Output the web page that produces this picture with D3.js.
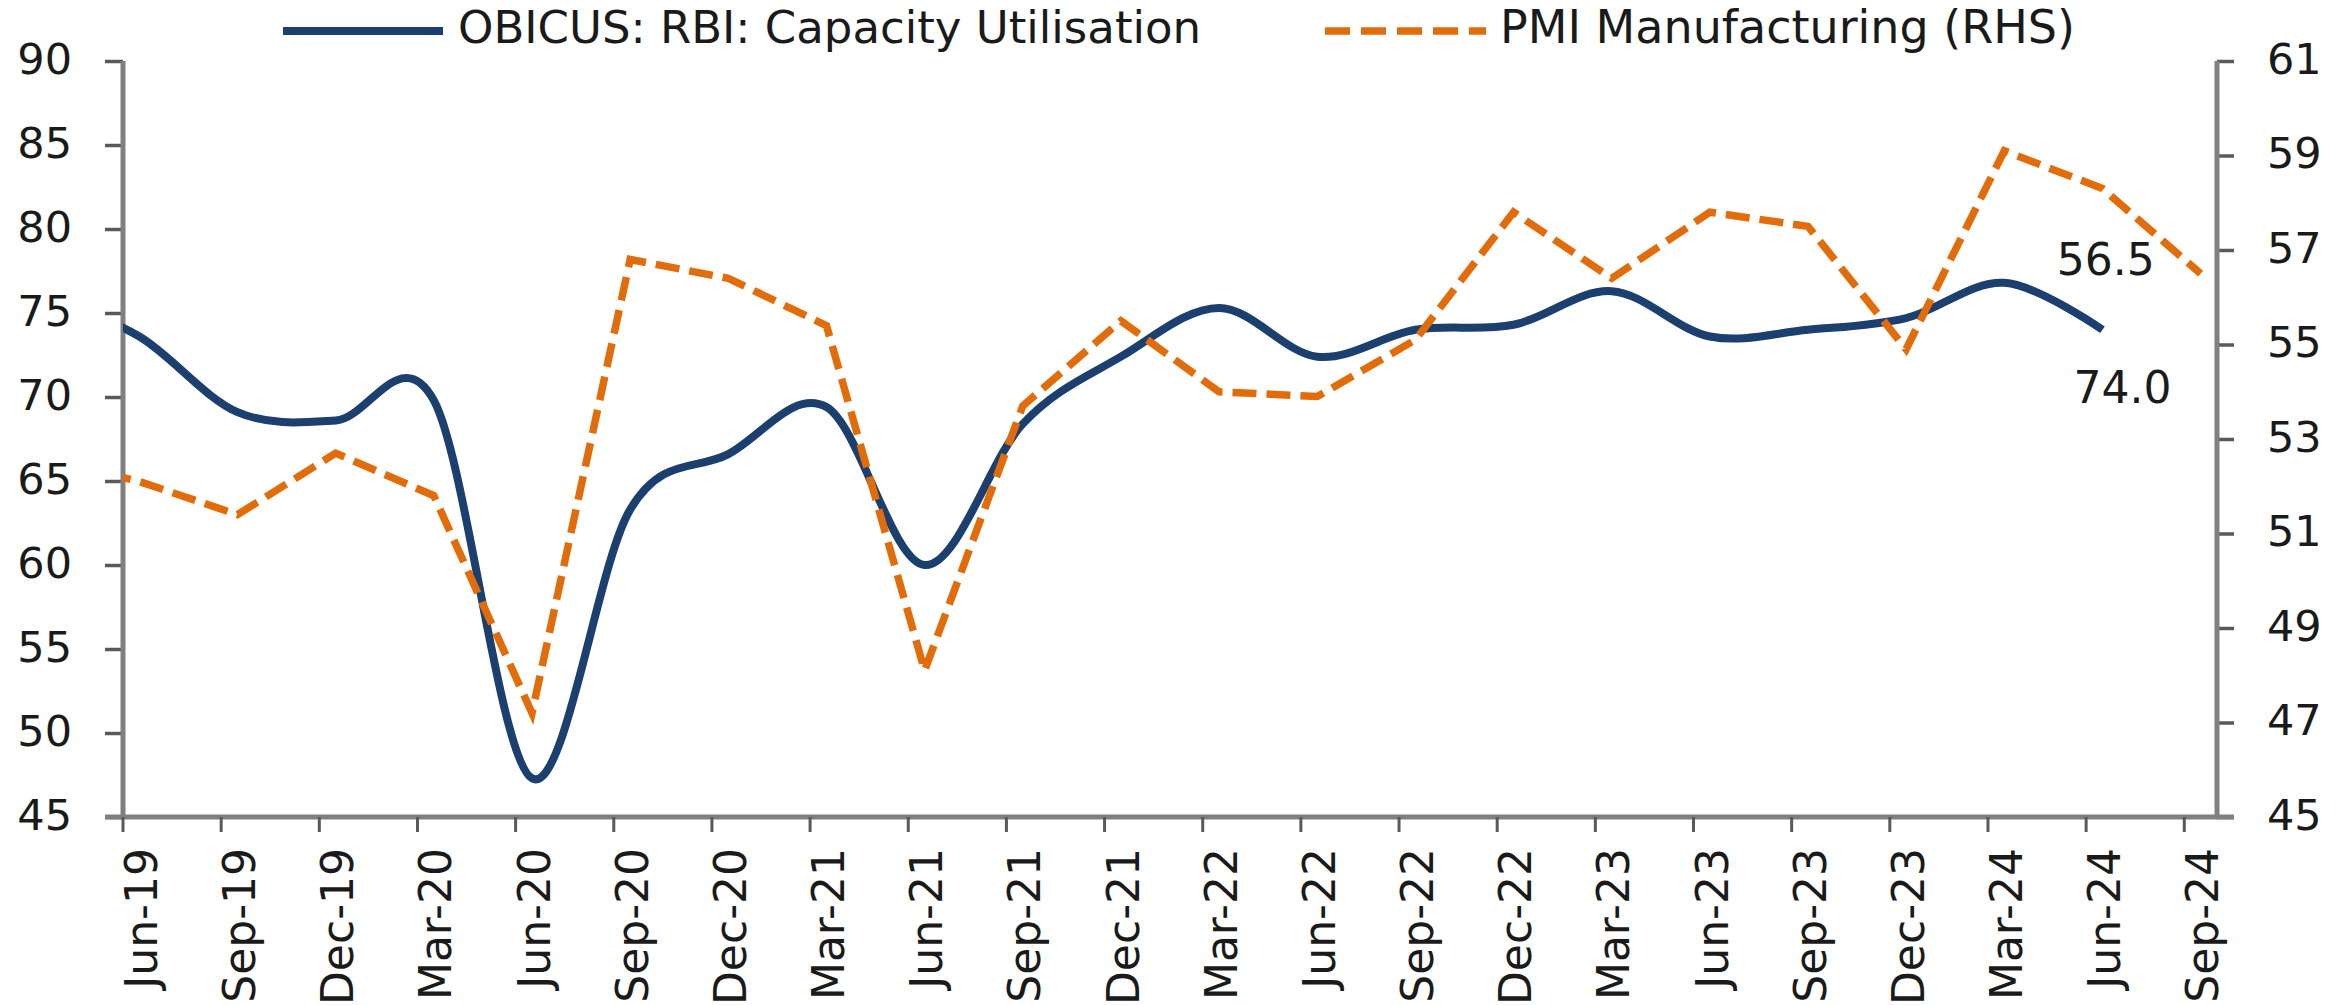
<!DOCTYPE html>
<html>
<head>
<meta charset="utf-8">
<script src="https://cdn.jsdelivr.net/npm/d3@7"></script>
<style>
  html, body { margin: 0; padding: 0; background: #fff; }
  #chart { width: 2351px; height: 1005px; }
</style>
</head>
<body>
<div id="chart"></div>
<script>
//Colores fijos
const COLOR_BLUE = '#1B3F6E',
COLOR_ORANGE = '#E36C0A',
COLOR_AXIS = '#808080',
COLOR_TICK = '#595959',
COLOR_TEXT = '#1a1a1a';

//Datos
const quarters = ['Jun-19','Sep-19','Dec-19','Mar-20','Jun-20','Sep-20','Dec-20','Mar-21','Jun-21','Sep-21','Dec-21',
    'Mar-22','Jun-22','Sep-22','Dec-22','Mar-23','Jun-23','Sep-23','Dec-23','Mar-24','Jun-24','Sep-24'];
//El primer valor (Mar-19) queda fuera del eje y solo se ve el tramo recortado
const obicus = [76.1, 73.6, 69.1, 68.6, 69.8, 47.3, 63.3, 66.6, 69.4, 60.0, 68.4, 72.4,
    75.3, 72.4, 74.0, 74.3, 76.3, 73.6, 74.0, 74.7, 76.8, 74.0];
const pmi = [52.6, 52.1, 51.4, 52.7, 51.8, 47.2, 56.8, 56.4, 55.4, 48.1, 53.7, 55.5,
    54.0, 53.9, 55.1, 57.8, 56.4, 57.8, 57.5, 54.9, 59.1, 58.3, 56.5];
const leftTicks = [45, 50, 55, 60, 65, 70, 75, 80, 85, 90];
const rightTicks = [45, 47, 49, 51, 53, 55, 57, 59, 61];
const seriesNames = ['OBICUS: RBI: Capacity Utilisation', 'PMI Manufacturing (RHS)'];
const lastLabels = ['74.0', '56.5'];

let margin = {top: 61, right: 134, bottom: 188, left: 123},
    width = 2351 - margin.left - margin.right,
    height = 1005 - margin.top - margin.bottom;

let svg = d3.select('#chart')
    .append('svg')
        .attr('width', 2351)
        .attr('height', 1005)
    .append('g')
        .attr('transform', 'translate(' + margin.left + ',' + margin.top + ')');

svg.append('clipPath')
    .attr('id', 'plot-clip')
    .append('rect')
    .attr('x', 0).attr('y', -10)
    .attr('width', 2351).attr('height', height + 20);

//Eje X mensual: cada trimestre son 3 meses, los puntos en el centro del mes
let nMonths = quarters.length * 3 - 2;
let x = d3.scaleLinear()
    .domain([0, nMonths])
    .range([0, width]);

let yLeft = d3.scaleLinear()
    .domain([45, 90])
    .range([height, 0]);

let yRight = d3.scaleLinear()
    .domain([45, 61])
    .range([height, 0]);

//i = 0 es Mar-19
function px(i) { return x((i - 1) * 3 + 0.5); }

//Ejes
let axisLeft = svg.append('g')
    .call(d3.axisLeft(yLeft).tickValues(leftTicks).tickSize(18).tickPadding(33));
let axisRight = svg.append('g')
    .attr('transform', 'translate(' + width + ',0)')
    .call(d3.axisRight(yRight).tickValues(rightTicks).tickSize(17).tickPadding(33));

[axisLeft, axisRight].forEach(function(g) {
    g.select('.domain').remove();
    g.selectAll('.tick line').attr('stroke', COLOR_TICK).attr('stroke-width', 3.5);
    g.selectAll('.tick text')
        .attr('font-family', 'DejaVu Sans')
        .attr('font-size', 43)
        .attr('fill', COLOR_TEXT)
        .attr('dy', '0.28em');
});

svg.append('line')
    .attr('x1', 0).attr('x2', 0)
    .attr('y1', 0).attr('y2', height)
    .attr('stroke', COLOR_AXIS).attr('stroke-width', 5);
svg.append('line')
    .attr('x1', width).attr('x2', width)
    .attr('y1', 0).attr('y2', height)
    .attr('stroke', COLOR_AXIS).attr('stroke-width', 5);

let xAxis = svg.append('g')
    .attr('transform', 'translate(0,' + height + ')');

xAxis.append('line')
    .attr('x1', -18).attr('x2', width + 17)
    .attr('stroke', COLOR_AXIS).attr('stroke-width', 5);

xAxis.selectAll('.xtick')
    .data(quarters)
    .enter()
    .append('line')
    .attr('class', 'xtick')
    .attr('x1', function(d, i) { return x(i * 3); })
    .attr('x2', function(d, i) { return x(i * 3); })
    .attr('y1', 0).attr('y2', 15)
    .attr('stroke', COLOR_TICK).attr('stroke-width', 3);

xAxis.selectAll('.xlabel')
    .data(quarters)
    .enter()
    .append('text')
    .attr('class', 'xlabel')
    .attr('transform', function(d, i) { return 'translate(' + (x(i * 3) + 34) + ',31) rotate(-90)'; })
    .attr('text-anchor', 'end')
    .attr('font-family', 'DejaVu Sans')
    .attr('font-size', 44)
    .attr('fill', COLOR_TEXT)
    .text(function(d) { return d; });

//Líneas
let lineObicus = d3.line()
    .x(function(d, i) { return px(i); })
    .y(function(d) { return yLeft(d); })
    .curve(d3.curveCatmullRom.alpha(0));

let linePmi = d3.line()
    .x(function(d, i) { return px(i); })
    .y(function(d) { return yRight(d); });

let plot = svg.append('g')
    .attr('clip-path', 'url(#plot-clip)');

plot.append('path')
    .datum(obicus)
    .attr('d', lineObicus)
    .attr('fill', 'none')
    .attr('stroke', COLOR_BLUE)
    .attr('stroke-width', 8)
    .attr('stroke-linejoin', 'round');

plot.append('path')
    .datum(pmi)
    .attr('d', linePmi)
    .attr('fill', 'none')
    .attr('stroke', COLOR_ORANGE)
    .attr('stroke-width', 7.5)
    .attr('stroke-dasharray', '24,10');

//Etiquetas del último dato
let lastO = obicus.length - 1, lastP = pmi.length - 1;
svg.append('text')
    .attr('x', px(lastO) + 20)
    .attr('y', yLeft(obicus[lastO]) + 73)
    .attr('text-anchor', 'middle')
    .attr('font-family', 'DejaVu Sans')
    .attr('font-size', 44)
    .attr('fill', COLOR_TEXT)
    .text(lastLabels[0]);
svg.append('text')
    .attr('x', px(lastP) - 95)
    .attr('y', yRight(pmi[lastP]) + 1)
    .attr('text-anchor', 'middle')
    .attr('font-family', 'DejaVu Sans')
    .attr('font-size', 44)
    .attr('fill', COLOR_TEXT)
    .text(lastLabels[1]);

//Leyenda
let legend = svg.append('g')
    .attr('transform', 'translate(0,' + (-margin.top) + ')');

legend.append('line')
    .attr('x1', 283 - margin.left).attr('x2', 443 - margin.left)
    .attr('y1', 31).attr('y2', 31)
    .attr('stroke', COLOR_BLUE).attr('stroke-width', 8);
legend.append('text')
    .attr('x', 458 - margin.left).attr('y', 43)
    .attr('font-family', 'DejaVu Sans')
    .attr('font-size', 45)
    .attr('fill', COLOR_TEXT)
    .text(seriesNames[0]);

legend.append('line')
    .attr('x1', 1325 - margin.left).attr('x2', 1486 - margin.left)
    .attr('y1', 31).attr('y2', 31)
    .attr('stroke', COLOR_ORANGE).attr('stroke-width', 7.5)
    .attr('stroke-dasharray', '25,11');
legend.append('text')
    .attr('x', 1500 - margin.left).attr('y', 43)
    .attr('font-family', 'DejaVu Sans')
    .attr('font-size', 46)
    .attr('fill', COLOR_TEXT)
    .text(seriesNames[1]);
</script>
</body>
</html>
